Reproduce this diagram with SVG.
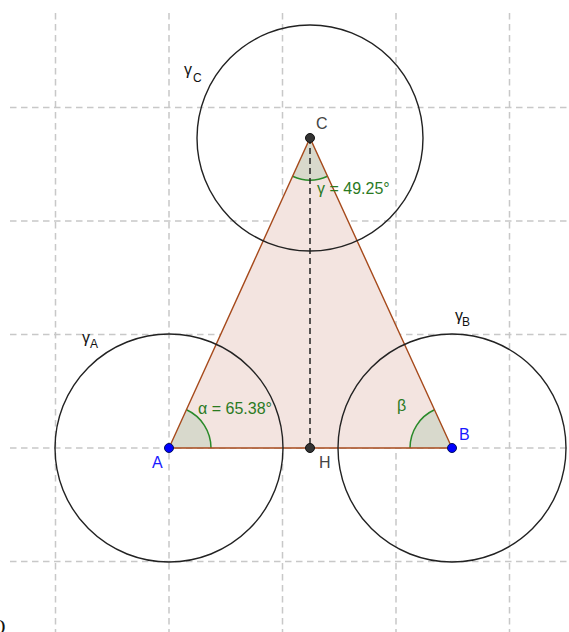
<svg xmlns="http://www.w3.org/2000/svg" width="569" height="632" viewBox="0 0 569 632">
<style>
.grid{stroke:#c8c8c8;stroke-width:1.5;stroke-dasharray:6.5 4.5;fill:none}
.circ{stroke:#222;stroke-width:1.4;fill:none}
.edge{stroke:#a64a1c;stroke-width:1.4;fill:none}
.ang{fill:#d8d9cc;stroke:none}
.arc{stroke:#2a8a2a;stroke-width:1.5;fill:none}
.alt{stroke:#222;stroke-width:1.5;stroke-dasharray:6 4;fill:none}
.t{font-family:"Liberation Sans",Arial,sans-serif;font-size:16px}
.g{fill:#2a7a1f}
.bl{fill:#1a1aff}
.dk{fill:#444}
.k{fill:#111}
.sub{font-size:12px}
</style>
<rect width="569" height="632" fill="#fff"/>
<g id="grid">
<path class="grid" d="M10,107.5H569M10,221H569M10,334.5H569M10,448H569M10,561.5H569"/>
<path class="grid" d="M55.5,13V632M169,13V632M282.5,13V632M396,13V632M509.5,13V632"/>
</g>
<g id="triangle">
<polygon points="169,448 452,448 310,138" fill="#f3e4e0" stroke="none"/>
<path class="ang" d="M169,448 L211,448 A42,42 0 0 0 186.5,409.8 Z"/>
<path class="ang" d="M452,448 L410,448 A42,42 0 0 1 434.5,409.8 Z"/>
<path class="ang" d="M310,138 L292.6,176.2 A42,42 0 0 0 327.5,176.2 Z"/>
<path class="arc" d="M211,448 A42,42 0 0 0 186.5,409.8"/>
<path class="arc" d="M410,448 A42,42 0 0 1 434.5,409.8"/>
<path class="arc" d="M292.6,176.2 A42,42 0 0 0 327.5,176.2"/>
<polygon class="edge" points="169,448 452,448 310,138"/>
</g>
<g id="connectors">
<line class="alt" x1="310" y1="138" x2="310" y2="448"/>
</g>
<g id="circleA"><circle class="circ" cx="169" cy="448" r="114"/></g>
<g id="circleB"><circle class="circ" cx="452" cy="448" r="114"/></g>
<g id="circleC"><circle class="circ" cx="310" cy="138" r="113"/></g>
<g id="pointA"><circle cx="169" cy="448" r="4.5" fill="#0000ff" stroke="#001060" stroke-width="1"/><text class="t bl" x="152" y="468">A</text></g>
<g id="pointB"><circle cx="452" cy="448" r="4.5" fill="#0000ff" stroke="#001060" stroke-width="1"/><text class="t bl" x="459" y="440">B</text></g>
<g id="pointC"><circle cx="310" cy="138" r="4.5" fill="#333" stroke="#111" stroke-width="1"/><text class="t dk" x="316" y="129">C</text></g>
<g id="pointH"><circle cx="310" cy="448" r="4.5" fill="#333" stroke="#111" stroke-width="1"/><text class="t dk" x="319" y="468">H</text></g>
<g id="labels">
<text class="t g" x="198" y="414">α = 65.38°</text>
<text class="t g" x="397" y="411">β</text>
<text class="t g" x="317" y="194">γ = 49.25°</text>
<text class="t k" x="184" y="75">γ<tspan class="sub" x="193" y="82">C</tspan></text>
<text class="t k" x="82" y="343">γ<tspan class="sub" x="90" y="348">A</tspan></text>
<text class="t k" x="455" y="321">γ<tspan class="sub" x="462" y="326">B</tspan></text>
<text x="-9" y="634" font-family="Liberation Serif,serif" font-size="20" fill="#111">O</text>
</g>
</svg>
